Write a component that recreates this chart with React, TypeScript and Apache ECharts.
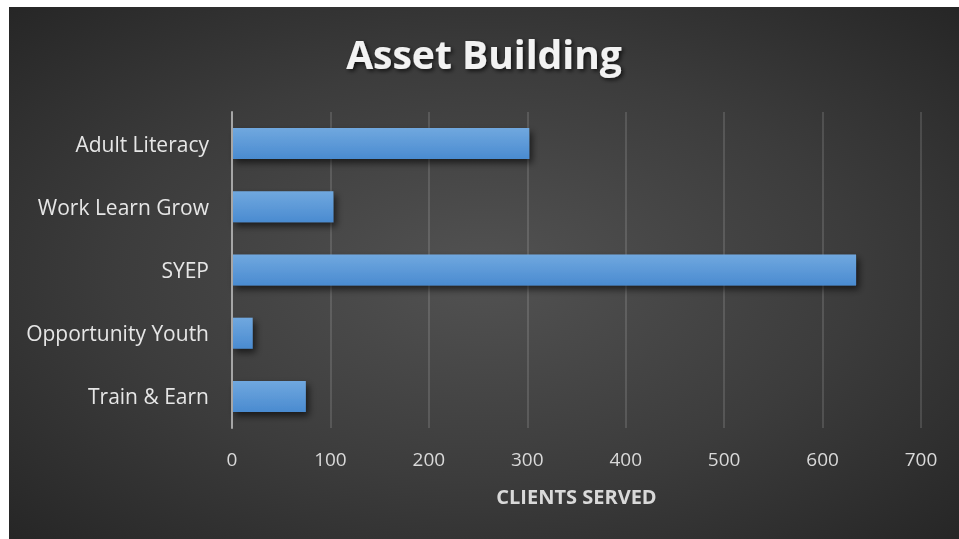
import React, { useEffect, useRef } from "react";
import * as echarts from "echarts";

const categories = ["Adult Literacy", "Work Learn Grow", "SYEP", "Opportunity Youth", "Train & Earn"];
const values = [302, 103, 634, 21, 75];
const titleText = "Asset Building";
const axisName = "CLIENTS SERVED";

export default function App() {
  const ref = useRef<HTMLDivElement>(null);
  useEffect(() => {
    if (!ref.current) return;
    const chart = echarts.init(ref.current, undefined, { renderer: "svg" });
    chart.setOption({
      animation: false,
      title: {
        text: titleText,
        left: "center",
        top: 22,
        textStyle: {
          color: "#f2f2f2",
          fontSize: 39,
          fontWeight: "bold",
          fontFamily: "Open Sans",
          textShadowColor: "rgba(0,0,0,0.7)",
          textShadowBlur: 4,
          textShadowOffsetX: 2,
          textShadowOffsetY: 2,
        },
      },
      grid: { left: 223, right: 38, top: 105, bottom: 111, containLabel: false },
      xAxis: {
        type: "value",
        min: 0,
        max: 700,
        interval: 100,
        axisLine: { show: false },
        axisTick: { show: false },
        splitLine: { lineStyle: { color: "rgba(255,255,255,0.13)", width: 2 } },
        axisLabel: { color: "#d9d9d9", fontSize: 19, fontFamily: "Open Sans", margin: 21 },
        name: axisName,
        nameLocation: "middle",
        nameGap: 58,
        nameTextStyle: { color: "#d9d9d9", fontSize: 20, fontWeight: "bold", fontFamily: "Open Sans" },
      },
      yAxis: {
        type: "category",
        inverse: true,
        data: categories,
        z: 5,
        axisLine: { show: true, lineStyle: { color: "#a6a6a6", width: 2 } },
        axisTick: { show: false },
        axisLabel: { color: "#e6e6e6", fontSize: 21, fontFamily: "Open Sans", margin: 23 },
      },
      series: [
        {
          type: "bar",
          data: values,
          barCategoryGap: "51%",
          itemStyle: {
            color: new echarts.graphic.LinearGradient(0, 0, 0, 1, [
              { offset: 0, color: "#70a8df" },
              { offset: 1, color: "#4a8bd0" },
            ]),
            shadowColor: "rgba(0,0,0,0.6)",
            shadowBlur: 7,
            shadowOffsetX: 3,
            shadowOffsetY: 4,
          },
        },
      ],
    });
    return () => chart.dispose();
  }, []);
  return (
    <div
      ref={ref}
      style={{
        position: "fixed",
        left: 9,
        top: 7,
        width: 950,
        height: 532,
        background: "radial-gradient(ellipse at 50% 50%, #525252 0%, #3c3c3c 55%, #262626 100%)",
      }}
    />
  );
}
